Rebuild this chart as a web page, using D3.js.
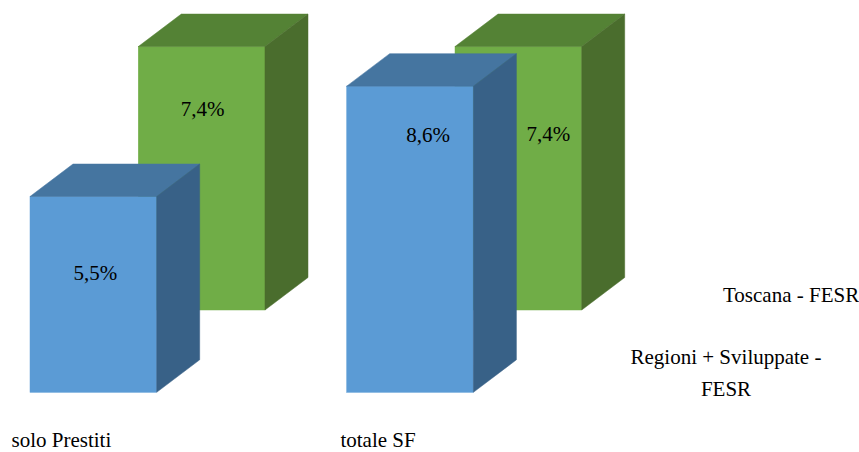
<!DOCTYPE html>
<html>
<head>
<meta charset="utf-8">
<script src="https://cdn.jsdelivr.net/npm/d3@7/dist/d3.min.js"></script>
<style>
  body { margin: 0; background: #fff; }
</style>
</head>
<body>
<div id="container"></div>
<script>
// data
const categories = ['solo Prestiti', 'totale SF'];
const seriesNames = ['Toscana - FESR', 'Regioni + Sviluppate - FESR'];
const toscana = [7.4, 7.4];
const regioni = [5.5, 8.6];
const labelText = v => d3.format('.1f')(v).replace('.', ',') + '%';

const width = 859;
const height = 452;
const fontFamily = 'Liberation Serif';
const fontSize = 21;

// face colours per series: [front, top, side]
const faceColors = [
    ['#70ad47', '#548235', '#4a6d2d'],
    ['#5b9bd5', '#4575a0', '#386187']
];

// 3D depth of a bar and the shift of the back series
const depth = { dx: 43, dy: -32.5 };
const seriesShift = d3.scaleOrdinal().domain([0, 1]).range([{ dx: 108.3, dy: -82.3 }, { dx: 0, dy: 0 }]);

// label nudges (Excel puts them oddly), [series][category]
const labelNudge = [
    [{ dx: 1, dy: -62 }, { dx: 30, dy: -37 }],
    [{ dx: 2, dy: -14 }, { dx: 18, dy: -97 }]
];

const baseline = 392.3;

const svg = d3.select('#container').append('svg')
    .attr('width', width)
    .attr('height', height);

const xScale = d3.scaleBand()
    .domain(categories)
    .range([30, 473.4])
    .paddingInner(0.6)
    .paddingOuter(0);

const yScale = d3.scaleLinear()
    .domain([0, 10])
    .range([0, 356]);

const bars = [];
[toscana, regioni].forEach((values, s) => {
    values.forEach((v, i) => {
        bars.push({ s: s, i: i, cat: categories[i], value: v });
    });
});

// back series first so the front one covers it
bars.sort((a, b) => a.s - b.s || a.i - b.i);

const bw = xScale.bandwidth();

function addText(sel) {
    return sel.append('text')
        .attr('font-family', fontFamily)
        .attr('font-size', fontSize)
        .attr('fill', '#000');
}

const barG = svg.selectAll('g.bar')
    .data(bars)
    .enter()
    .append('g')
    .attr('class', 'bar');

barG.each(function(d) {
    const g = d3.select(this);
    const sh = seriesShift(d.s);
    const x0 = xScale(d.cat) + sh.dx;
    const x1 = x0 + bw;
    const yb = baseline + sh.dy;
    const yt = yb - yScale(d.value);
    const c = faceColors[d.s];

    // front
    g.append('rect')
        .attr('x', x0)
        .attr('y', yt)
        .attr('width', bw)
        .attr('height', yb - yt)
        .attr('fill', c[0])
        .attr('stroke', c[0])
        .attr('stroke-width', 0.5);
    // top
    g.append('path')
        .attr('d', `M${x0},${yt}L${x0 + depth.dx},${yt + depth.dy}L${x1 + depth.dx},${yt + depth.dy}L${x1},${yt}Z`)
        .attr('fill', c[1])
        .attr('stroke', c[1])
        .attr('stroke-width', 0.5);
    // side
    g.append('path')
        .attr('d', `M${x1},${yt}L${x1 + depth.dx},${yt + depth.dy}L${x1 + depth.dx},${yb + depth.dy}L${x1},${yb}Z`)
        .attr('fill', c[2])
        .attr('stroke', c[2])
        .attr('stroke-width', 0.5);

    const n = labelNudge[d.s][d.i];
    addText(g)
        .attr('x', x0 + bw / 2 + n.dx)
        .attr('y', (yt + yb) / 2 + n.dy)
        .attr('text-anchor', 'middle')
        .text(labelText(d.value));
});

// category labels
categories.forEach(cat => {
    addText(svg)
        .attr('x', xScale(cat) + bw / 2 - 32)
        .attr('y', 447)
        .attr('text-anchor', 'middle')
        .text(cat);
});

// legend (text only, as in the original)
addText(svg)
    .attr('x', 723)
    .attr('y', 302)
    .text(seriesNames[0]);

const leg2 = addText(svg)
    .attr('x', 726)
    .attr('y', 364)
    .attr('text-anchor', 'middle');
leg2.append('tspan').attr('x', 726).text('Regioni + Sviluppate -');
leg2.append('tspan').attr('x', 726).attr('dy', 32).text('FESR');
</script>
</body>
</html>
